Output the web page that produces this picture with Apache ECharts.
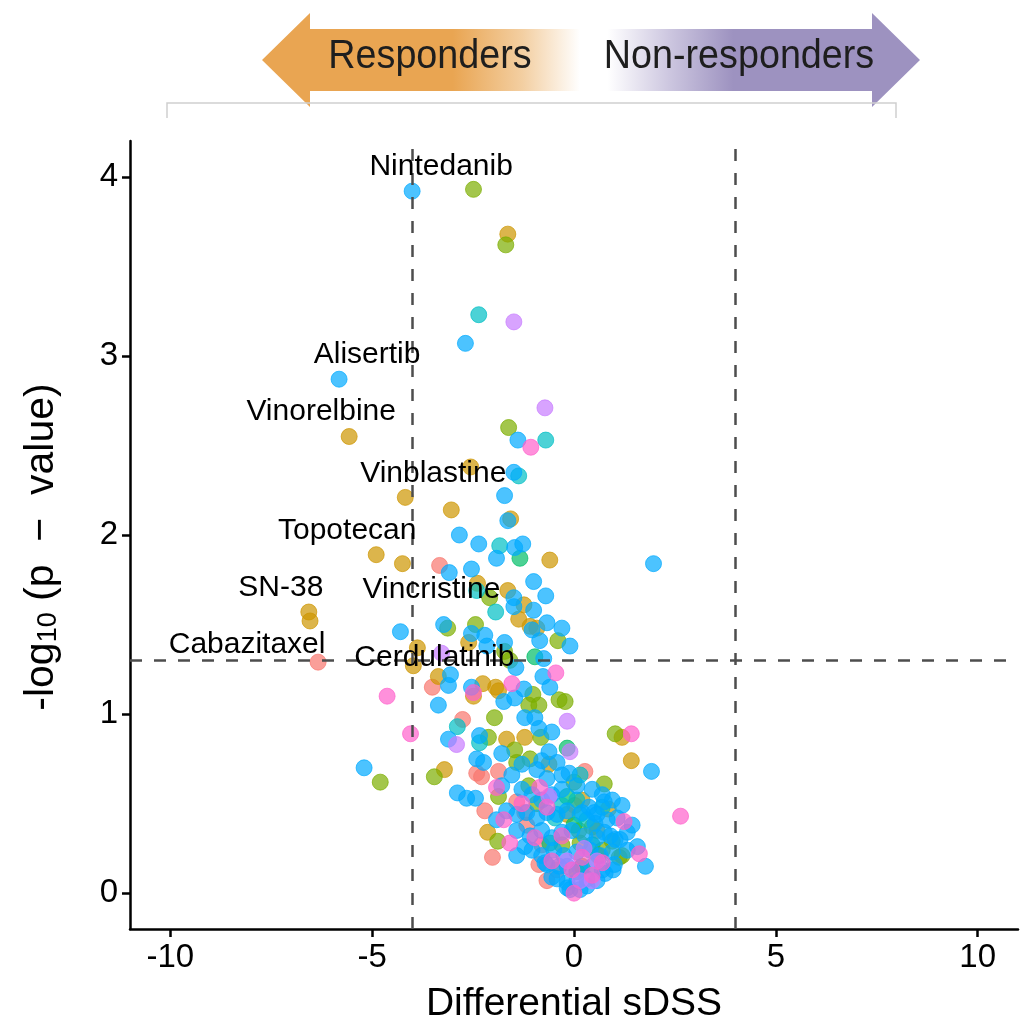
<!DOCTYPE html>
<html>
<head>
<meta charset="utf-8">
<script src="https://cdn.jsdelivr.net/npm/echarts@6/dist/echarts.min.js"></script>
<style>
  html, body { margin: 0; padding: 0; background: #ffffff; }
  #chart { width: 1026px; height: 1023px; }
</style>
</head>
<body>
<div id="chart"></div>
<script>
// Differential sDSS (x) vs -log10(p) (y), one array per drug-class colour
const groupSalmon = [
  [-6.34,1.29],[-3.33,1.83],[-3.51,1.15],[-2.76,0.97],[-2.41,0.67],[-2.29,0.65],[-2.21,0.46],
  [-2.02,0.20],[-1.87,0.68],[-1.42,0.51],[-1.22,0.45],[-0.87,0.16],[0.27,0.68],[-0.80,0.27],
  [-0.42,0.13],[-1.17,0.38],[-0.67,0.07]
];
const groupGold = [
  [-1.64,3.68],[-5.57,2.55],[-2.56,2.38],[-4.18,2.21],[-3.04,2.14],[-1.57,2.09],[-0.60,1.86],
  [-4.90,1.89],[-4.25,1.84],[-2.39,1.73],[-1.64,1.69],[-1.24,1.61],[-1.37,1.53],[-6.57,1.57],
  [-6.54,1.52],[-1.09,1.49],[-2.61,1.40],[-3.88,1.37],[-3.98,1.27],[-3.36,1.21],[-2.26,1.17],
  [-1.94,1.15],[-1.87,1.13],[-2.49,1.10],[-3.21,0.69],[-1.67,0.86],[-1.22,0.87],[-0.62,0.72],
  [0.02,0.49],[-2.14,0.34],[0.85,0.47],[1.19,0.87],[1.42,0.74],[0.57,0.35],[-0.17,0.44],
  [0.20,0.52],[-0.92,1.48]
];
const groupOlive = [
  [-2.49,3.93],[-1.69,3.62],[-1.62,2.60],[-2.09,1.65],[-3.13,1.48],[-2.44,1.50],[-1.72,1.35],
  [-1.59,1.30],[-0.40,1.41],[-1.02,1.11],[-1.12,1.05],[-0.87,1.05],[-0.37,1.08],[-0.22,1.07],
  [-1.97,0.98],[-4.80,0.62],[-3.46,0.65],[-2.12,0.87],[-1.47,0.80],[-1.42,0.73],[-1.09,0.75],
  [-0.82,0.87],[-1.87,0.54],[-1.89,0.29],[-1.12,0.60],[-0.92,0.50],[1.02,0.89],[0.00,0.62],
  [0.75,0.61],[1.19,0.21],[1.12,0.20],[0.60,0.21],[0.20,0.15],[0.15,0.28],[0.12,0.35],
  [-0.30,0.27],[0.45,0.37],[0.70,0.24],[0.95,0.29]
];
const groupGreen = [
  [-1.34,1.87],[-0.97,1.32],[-0.17,0.81],[-0.17,0.54],[0.00,0.38],[0.45,0.27],[-0.60,0.28],[0.07,0.12]
];
const groupTeal = [
  [-2.36,3.23],[-0.70,2.53],[-1.37,2.33],[-1.84,1.94],[-2.41,1.69],[-1.94,1.57],[-2.89,0.93],
  [-2.34,0.84],[0.15,0.44],[-0.47,0.42],[0.07,0.52],[0.32,0.41],[-0.30,0.49],[0.70,0.48],[0.15,0.66]
];
const groupBlue = [
  [-4.01,3.92],[-2.69,3.07],[-5.82,2.87],[-1.39,2.53],[-1.49,2.35],[-1.72,2.22],[-1.64,2.08],
  [-2.84,2.00],[-2.36,1.95],[-1.47,1.93],[-1.27,1.95],[-1.92,1.87],[-3.09,1.79],[-2.54,1.81],
  [-1.00,1.74],[-0.70,1.66],[-1.49,1.65],[-1.49,1.60],[-1.00,1.58],[1.97,1.84],[-1.04,1.47],
  [-0.67,1.51],[-0.30,1.48],[-0.85,1.41],[-4.30,1.46],[-3.23,1.50],[-2.54,1.45],[-2.21,1.44],
  [-2.16,1.38],[-1.72,1.40],[-0.10,1.38],[-0.75,1.31],[-1.44,1.26],[-3.06,1.22],[-3.11,1.16],
  [-2.54,1.15],[-1.74,1.07],[-1.47,1.09],[-1.24,1.14],[-0.77,1.21],[-0.60,1.15],[-3.36,1.05],
  [-1.22,0.98],[-0.97,0.98],[-3.11,0.86],[-5.20,0.70],[-2.89,0.56],[-2.66,0.53],[-2.44,0.53],
  [-2.34,0.88],[-2.41,0.75],[-2.24,0.73],[-1.79,0.78],[-0.87,0.92],[-0.55,0.90],[-0.62,0.79],
  [-1.92,0.41],[-1.42,0.21],[-1.22,0.26],[-0.72,0.17],[-0.55,0.09],[1.92,0.68],[0.75,0.51],
  [1.32,0.34],[1.02,0.30],[1.57,0.26],[1.77,0.15],[0.97,0.13],[0.50,0.45],[0.52,0.39],
  [0.75,0.34],[0.37,0.48],[-0.12,0.67],[0.77,0.11],
  [-1.29,0.58],[-1.04,0.55],[-0.80,0.52],[-0.55,0.55],[-0.30,0.58],[0.07,0.60],[0.45,0.58],
  [0.70,0.55],[0.95,0.52],[1.19,0.49],[-1.67,0.46],[-1.42,0.44],[-1.17,0.45],[-0.92,0.42],
  [-0.67,0.45],[-0.42,0.44],[-0.17,0.46],[0.20,0.45],[0.57,0.44],[0.82,0.41],[1.07,0.42],
  [1.44,0.38],[-1.42,0.35],[-1.09,0.32],[-0.80,0.35],[-0.55,0.31],[-0.30,0.34],[-0.05,0.35],
  [0.27,0.32],[0.57,0.31],[0.90,0.32],[1.14,0.30],[-1.04,0.24],[-0.80,0.21],[-0.50,0.24],
  [-0.25,0.21],[0.07,0.23],[0.40,0.24],[0.65,0.21],[0.95,0.23],[1.32,0.24],[-0.67,0.16],
  [-0.37,0.15],[-0.17,0.15],[0.15,0.14],[0.45,0.15],[0.70,0.13],[1.00,0.16],[-0.42,0.08],
  [-0.17,0.06],[0.07,0.07],[0.32,0.08],[0.57,0.07],[-0.17,0.03],[0.15,0.02],[0.32,0.04],
  [-0.10,0.02],
  [-1.29,0.72],[-0.92,0.69],[-0.67,0.64],[-1.54,0.66],[-1.79,0.60],[-0.42,0.73],[-0.30,0.66],[-0.80,0.74]
];
const groupPurple = [
  [-1.49,3.19],[-0.72,2.71],[-3.28,1.34],[-2.91,0.83],[-0.17,0.96],[-0.10,0.79],[-0.62,0.54],
  [0.15,0.07],[0.25,0.25],[0.57,0.18],[-0.17,0.18],[0.45,0.07]
];
const groupPink = [
  [-1.07,2.49],[-1.54,1.17],[-2.49,1.12],[-0.45,1.23],[-4.63,1.10],[-4.05,0.89],[1.42,0.89],
  [2.64,0.43],[1.24,0.40],[1.62,0.22],[-1.74,0.41],[-1.92,0.59],[-1.59,0.28],[-1.29,0.50],
  [-0.85,0.59],[-0.67,0.48],[-0.97,0.31],[-0.30,0.32],[-0.05,0.13],[0.00,0.00],[0.20,0.20],
  [0.45,0.10],[-0.55,0.18],[0.70,0.17]
];

// Named drugs
const labelNames = ['Nintedanib','Alisertib','Vinorelbine','Vinblastine','Topotecan','SN-38','Vincristine','Cabazitaxel','Cerdulatinib'];
const labelX = [-4.01,-5.82,-5.57,-4.18,-4.90,-6.57,-4.25,-6.34,-3.98];
const labelY = [3.92,2.87,2.55,2.21,1.89,1.57,1.84,1.29,1.27];

// Axis ticks and thresholds
const xTicks = [-10,-5,0,5,10];
const yTicks = [0,1,2,3,4];
const sdssCut = [-4, 4];
const pCut = 1.3;

const FONT = 'Liberation Sans, Arial, Helvetica, sans-serif';

// label placement relative to each named point (pixels)
const labelShift = [[29,-24],[28,-24],[-28,-25],[28,-24],[-29,-24],[-28,-24],[29,26],[-71,-17],[21,-8]];

const groups = [
  { data: groupSalmon, color: '#F8766D' },
  { data: groupGold,   color: '#CD9600' },
  { data: groupOlive,  color: '#7CAE00' },
  { data: groupGreen,  color: '#00BE67' },
  { data: groupTeal,   color: '#00BFC4' },
  { data: groupBlue,   color: '#00A9FF' },
  { data: groupPurple, color: '#C77CFF' },
  { data: groupPink,   color: '#FF61CC' }
];

const pointSeries = groups.map(g => ({
  type: 'scatter',
  data: g.data,
  symbolSize: 16,
  silent: true,
  itemStyle: { color: g.color, opacity: 0.7, borderColor: g.color, borderWidth: 1 },
  z: 2
}));

const MARK = 2; // size of the invisible anchor symbol for each label
const labelSeries = {
  type: 'scatter',
  symbolSize: MARK,
  silent: true,
  z: 10,
  itemStyle: { color: 'rgba(0,0,0,0)' },
  labelLayout: { hideOverlap: false },
  data: labelNames.map((n, i) => ({
    name: n,
    value: [labelX[i], labelY[i]],
    label: {
      show: true,
      position: [labelShift[i][0] + MARK / 2, labelShift[i][1] + MARK / 2],
      align: 'center',
      verticalAlign: 'middle',
      formatter: '{b}',
      fontSize: 30,
      fontFamily: FONT,
      color: '#000000',
      opacity: 1
    }
  })),
  markLine: {
    silent: true,
    symbol: 'none',
    label: { show: false },
    lineStyle: { color: '#4d4d4d', type: [12, 12], width: 2.5 },
    data: [{ xAxis: sdssCut[0] }, { xAxis: sdssCut[1] }, { yAxis: pCut }]
  }
};

const chart = echarts.init(document.getElementById('chart'), null, { renderer: 'canvas' });

chart.setOption({
  animation: false,
  backgroundColor: '#ffffff',
  grid: { left: 130, right: 8, top: 141, bottom: 94, outerBoundsMode: 'none', containLabel: false },
  xAxis: {
    type: 'value',
    min: -11, max: 11,
    splitLine: { show: false },
    axisLine: { show: true, onZero: false, lineStyle: { color: '#000', width: 2.5 } },
    axisTick: { show: true, length: 8, lineStyle: { color: '#000', width: 2.5 }, customValues: xTicks },
    axisLabel: { customValues: xTicks, fontSize: 33, fontFamily: FONT, color: '#000', margin: 12 },
    name: 'Differential sDSS',
    nameLocation: 'middle',
    nameGap: 56,
    nameTextStyle: { fontSize: 39, fontFamily: FONT, color: '#000' }
  },
  yAxis: {
    type: 'value',
    min: -0.2, max: 4.2,
    splitLine: { show: false },
    axisLine: { show: true, onZero: false, lineStyle: { color: '#000', width: 2.5 } },
    axisTick: { show: true, length: 8, lineStyle: { color: '#000', width: 2.5 }, customValues: yTicks },
    axisLabel: { customValues: yTicks, fontSize: 33, fontFamily: FONT, color: '#000', margin: 12 },
    name: '{a|-log}{s|10}{a| (p  \u2212  value)}',
    nameLocation: 'middle',
    nameRotate: 90,
    nameGap: 68,
    nameTextStyle: {
      padding: [0, 0, 0, -24],
      rich: {
        a: { fontSize: 41, fontFamily: FONT, color: '#000', lineHeight: 48, verticalAlign: 'bottom' },
        s: { fontSize: 27, fontFamily: FONT, color: '#000', lineHeight: 22, verticalAlign: 'bottom' }
      }
    }
  },
  series: pointSeries.concat([labelSeries]),
  graphic: [
    {
      type: 'polygon',
      silent: true,
      shape: { points: [[262,60],[310,13],[310,29],[580,29],[580,91],[310,91],[310,107]] },
      style: {
        fill: new echarts.graphic.LinearGradient(262, 0, 580, 0, [
          { offset: 0, color: '#E9A552' },
          { offset: 0.6, color: '#E9A552' },
          { offset: 0.82, color: '#F3CFA2' },
          { offset: 1, color: '#FFFFFF' }
        ], true)
      }
    },
    {
      type: 'polygon',
      silent: true,
      shape: { points: [[598,29],[872,29],[872,13],[920,60],[872,107],[872,91],[598,91]] },
      style: {
        fill: new echarts.graphic.LinearGradient(598, 0, 920, 0, [
          { offset: 0, color: '#FFFFFF' },
          { offset: 0.03, color: '#FFFFFF' },
          { offset: 0.22, color: '#CDC7E0' },
          { offset: 0.42, color: '#9D92C0' },
          { offset: 1, color: '#9D92C0' }
        ], true)
      }
    },
    {
      type: 'text', silent: true, x: 430, y: 57, scaleX: 0.92,
      style: { text: 'Responders', fontSize: 41, fontFamily: FONT, fill: '#1e1e1e', align: 'center', verticalAlign: 'middle' }
    },
    {
      type: 'text', silent: true, x: 739, y: 57, scaleX: 0.92,
      style: { text: 'Non-responders', fontSize: 41, fontFamily: FONT, fill: '#1e1e1e', align: 'center', verticalAlign: 'middle' }
    },
    {
      type: 'polyline', silent: true,
      shape: { points: [[167,118],[167,103],[896,103],[896,118]] },
      style: { stroke: '#cfcfcf', lineWidth: 1.5, fill: null }
    }
  ]
});
</script>
</body>
</html>
